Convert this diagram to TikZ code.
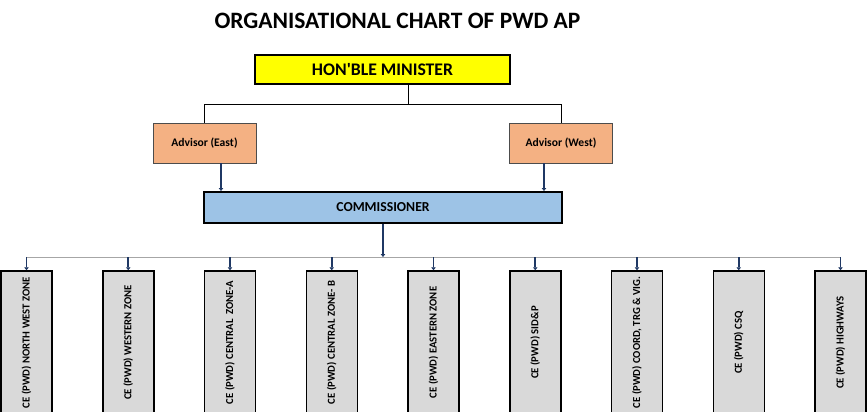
\documentclass[tikz,border=0pt]{standalone}
\usepackage{fontspec}
\setmainfont{Carlito}
\usetikzlibrary{calc,arrows.meta}
\definecolor{minfill}{HTML}{FFFF00}
\definecolor{advfill}{HTML}{F4B183}
\definecolor{comfill}{HTML}{9DC3E6}
\definecolor{cefill}{HTML}{D9D9D9}
\definecolor{navy}{HTML}{1F3864}
\definecolor{hline}{HTML}{A6A6A6}
\tikzset{
  minbox/.style={draw=black,line width=2pt,fill=minfill,minimum width=255pt,minimum height=29pt,inner sep=0pt,font=\fontsize{17.7}{18}\selectfont\bfseries},
  advbox/.style={draw=black!70,line width=0.8pt,fill=advfill,minimum width=103pt,minimum height=40pt,inner sep=0pt,font=\fontsize{11.6}{12}\selectfont\bfseries},
  combox/.style={draw=black,line width=2pt,fill=comfill,minimum width=358pt,minimum height=31pt,inner sep=0pt,font=\fontsize{13.7}{14}\selectfont\bfseries},
  cebox/.style={draw=black,line width=1.5pt,fill=cefill,rotate=90,minimum width=143pt,minimum height=51pt,inner sep=0pt,font=\fontsize{10.7}{11}\selectfont\bfseries},
  thinline/.style={draw=black,line width=0.8pt},
  grayline/.style={draw=hline,line width=1pt},
  navyarrow/.style={draw=navy,line width=2.2pt,-{Triangle[length=3pt,width=4.5pt]}},
  smallarrow/.style={draw=navy,line width=1.6pt,-{Triangle[length=3pt,width=4.5pt]}},
}
\begin{document}
\begin{tikzpicture}[x=1pt,y=-1pt]
\useasboundingbox (0,0) rectangle (867,412);
\clip (0,0) rectangle (867,412);
\node[font=\fontsize{23.5}{24}\selectfont\bfseries] (title) at (397.5,21) {ORGANISATIONAL CHART OF PWD AP};
\node[minbox] (min) at (382.5,69.5) {HON\textquotesingle BLE MINISTER};
\node[advbox] (ae) at (204.5,143) {Advisor (East)};
\node[advbox] (aw) at (561,143) {Advisor (West)};
\node[combox] (com) at (383,207.5) {COMMISSIONER};
\coordinate (mj) at ($(min.south)+(25.5,0)$);
\draw[thinline] (mj) -- ++(0,19) -| (ae.north);
\draw[thinline] (mj) -- ++(0,19) -| (aw.north);
\draw[navyarrow] ($(ae.south)+(16.5,0)$) -- ($(com.north west)!($(ae.south)+(16.5,0)$)!(com.north east)$);
\draw[navyarrow] ($(aw.south)+(-17,0)$) -- ($(com.north west)!($(aw.south)+(-17,0)$)!(com.north east)$);
\foreach \i/\t in {1/{CE (PWD) NORTH WEST ZONE},2/{CE (PWD) WESTERN ZONE},3/{CE (PWD) CENTRAL\ \ ZONE-A},4/{CE (PWD) CENTRAL ZONE- B},5/{CE (PWD) EASTERN ZONE},6/{CE (PWD) SID\&P},7/{CE (PWD) COORD, TRG \& VIG.},8/{CE (PWD) CSQ},9/{CE (PWD) HIGHWAYS}}{
  \node[cebox] (ce\i) at ({26.5+101.75*(\i-1)},342.5) {\t};
}
\coordinate (bl) at ($(com.south)+(0,33)$);
\draw[grayline] (ce1.east |- bl) -- (ce9.east |- bl);
\draw[navyarrow] (com.south) -- (bl);
\foreach \i in {1,...,9}{
  \draw[smallarrow] (ce\i.east |- bl) -- (ce\i.east);
}
\end{tikzpicture}
\end{document}
